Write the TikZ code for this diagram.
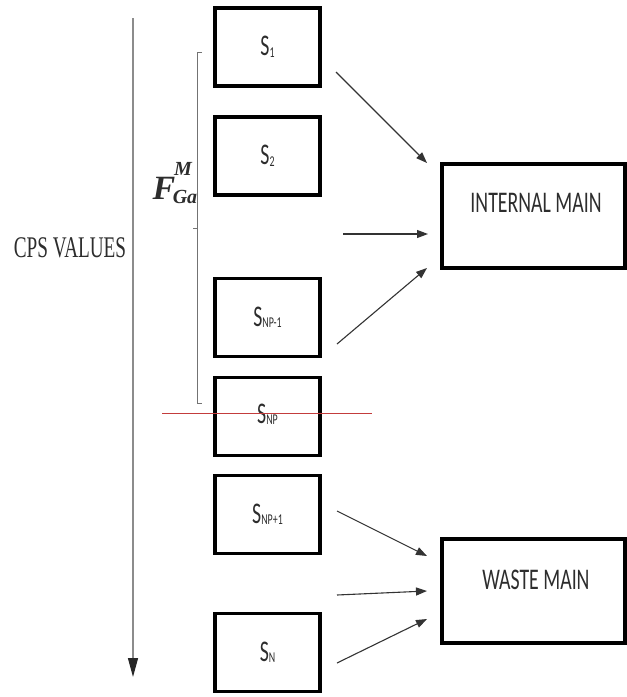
\documentclass[tikz,border=0pt]{standalone}
\usepackage{fontspec}
\usetikzlibrary{arrows.meta,calc}
\newfontfamily\cond[FakeStretch=0.66]{Carlito}
\newfontfamily\cserif[FakeStretch=0.64]{Liberation Serif}
\newfontfamily\fserif{Liberation Serif}
\definecolor{txt}{RGB}{45,45,45}
\definecolor{redline}{RGB}{195,60,60}
\newcommand\subx[1]{\raisebox{-1.5pt}{\fontsize{15}{15}\selectfont #1}}
\begin{document}
\begin{tikzpicture}[x=1pt,y=-1pt,
  sbox/.style={draw=black,line width=3.5pt,minimum width=105pt,minimum height=78pt,inner sep=0pt},
  mainbox/.style={draw=black,line width=3.5pt,minimum width=183pt,minimum height=104pt,inner sep=0pt},
  lab/.style={font=\cond\fontsize{30}{30}\selectfont,text=txt,inner sep=0pt},
  flab/.style={font=\fserif\bfseries\itshape,text=txt,inner sep=0pt},
  flow/.style={line width=1.1pt,draw=black!80,-{Triangle[length=11pt,width=8pt]}}]
\useasboundingbox (0,0) rectangle (627,697);

% value axis
\coordinate (axtop) at (133,18);
\coordinate (axbot) at (133,677);
\draw[line width=1.4pt,draw=black!45,-{Triangle[length=19pt,width=10pt,color=black!85]}] (axtop) -- (axbot);
\node[font=\cserif\fontsize{30}{30}\selectfont,text=txt,inner sep=0pt] (cps) at (70,248) {CPS VALUES};

% S boxes
\node[sbox] (s1) at (267.5,47) {};
\node[sbox] (s2) at (267.5,156) {};
\node[sbox] (snpm) at (267.5,317.5) {};
\node[sbox] (snp) at (267.5,416.5) {};
\node[sbox] (snpp) at (267.5,514.5) {};
\node[sbox] (sn) at (267.5,652.5) {};

\node[lab] (t1) at (s1.center) {S\subx{1}};
\node[lab] (t2) at (s2.center) {S\subx{2}};
\node[lab] (t3) at (snpm.center) {S\subx{NP-1}};
\node[lab] (t4) at ($(snp.center)+(0,-2)$) {S\subx{NP}};
\node[lab] (t5) at (snpp.center) {S\subx{NP+1}};
\node[lab] (t6) at (sn.center) {S\subx{N}};

% bracket and F label
\draw[line width=0.8pt,draw=black!55] (202,52) -- (197,52) -- (197,403) -- (202,403);
\draw[line width=0.8pt,draw=black!55] (197,228) -- (193,228);
\node[flab,font=\fserif\bfseries\itshape\fontsize{34}{34}\selectfont] (fF) at (164,188) {F};
\node[flab,font=\fserif\bfseries\itshape\fontsize{20}{20}\selectfont] (fM) at (183,169) {M};
\node[flab,font=\fserif\bfseries\itshape\fontsize{20}{20}\selectfont] (fGa) at (185,197) {Ga};

% red threshold line
\coordinate (rl) at (162,413);
\coordinate (rr) at (372,413);
\draw[line width=1pt,draw=redline] (rl) -- (rr);

% main boxes
\node[mainbox] (im) at (533.5,216) {};
\node[lab] (imt) at (536,203) {INTERNAL MAIN};
\node[mainbox] (wm) at (533.5,591) {};
\node[lab] (wmt) at (536,580) {WASTE MAIN};

% arrows to internal main
\coordinate (a1s) at (336,72);  \coordinate (a1e) at (427,163);
\coordinate (a2s) at (343,234); \coordinate (a2e) at (428,234);
\coordinate (a3s) at (337,344); \coordinate (a3e) at (427,268);
\draw[flow] (a1s) -- (a1e);
\draw[flow] (a2s) -- (a2e);
\draw[flow] (a3s) -- (a3e);

% arrows to waste main
\coordinate (b1s) at (337,511); \coordinate (b1e) at (427,556);
\coordinate (b2s) at (337,595); \coordinate (b2e) at (427,591);
\coordinate (b3s) at (337,663); \coordinate (b3e) at (427,619);
\draw[flow] (b1s) -- (b1e);
\draw[flow] (b2s) -- (b2e);
\draw[flow] (b3s) -- (b3e);
\end{tikzpicture}
\end{document}
